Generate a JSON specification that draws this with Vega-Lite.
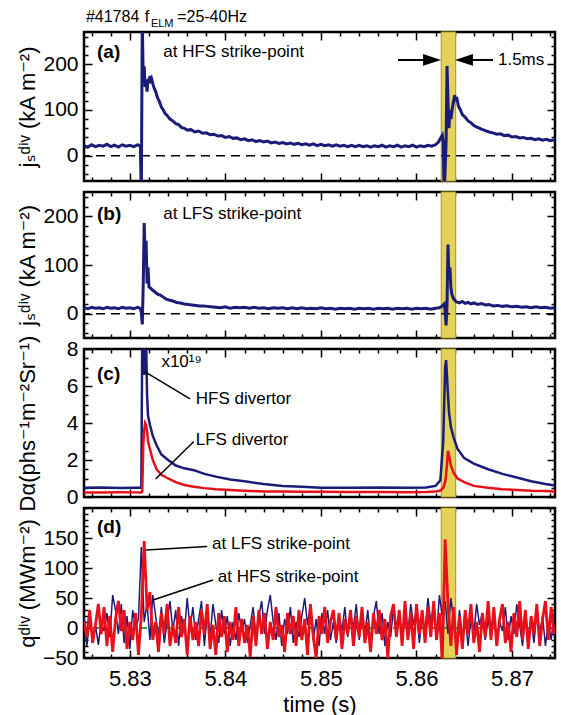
{
"$schema":"https://vega.github.io/schema/vega-lite/v6.json",
"background":"white",
"padding":{"left":14,"top":7,"right":4,"bottom":0},
"bounds":"flush",
"spacing":11,
"config":{"view":{"stroke":"black","strokeWidth":2.5},"font":"Liberation Sans",
"axis":{"labelFont":"Liberation Sans","titleFont":"Liberation Sans, DejaVu Sans","labelColor":"black","titleColor":"black","tickColor":"black","tickWidth":1.5,"domain":false,"grid":false,"labelFontSize":21,"titleFontSize":22,"titleFontWeight":"normal","labelOverlap":false,"labelFlush":false,"labelBound":false,"zindex":1},
"text":{"font":"Liberation Sans","color":"black"}},
"datasets":{
"band":[{"t0":5.8626,"t1":5.8641}],
"a":[{"t":5.8252,"v":22},{"t":5.8256,"v":19},{"t":5.826,"v":24},{"t":5.8264,"v":20},{"t":5.8268,"v":23},{"t":5.8272,"v":21},{"t":5.8276,"v":25},{"t":5.828,"v":20},{"t":5.8284,"v":23},{"t":5.8288,"v":19},{"t":5.8292,"v":24},{"t":5.8296,"v":21},{"t":5.83,"v":23},{"t":5.8304,"v":20},{"t":5.8308,"v":24},{"t":5.8311,"v":22},{"t":5.8312,"v":-90},{"t":5.8313,"v":300},{"t":5.8314,"v":165},{"t":5.8315,"v":195},{"t":5.8316,"v":150},{"t":5.8317,"v":162},{"t":5.8318,"v":140},{"t":5.8319,"v":168},{"t":5.832,"v":160},{"t":5.8321,"v":174},{"t":5.8322,"v":158},{"t":5.8323,"v":166},{"t":5.8325,"v":150},{"t":5.8327,"v":140},{"t":5.8329,"v":126},{"t":5.8331,"v":118},{"t":5.8333,"v":106},{"t":5.8335,"v":100},{"t":5.8337,"v":92},{"t":5.8339,"v":88},{"t":5.8342,"v":80},{"t":5.8345,"v":76},{"t":5.8348,"v":70},{"t":5.8351,"v":68},{"t":5.8354,"v":62},{"t":5.8357,"v":60},{"t":5.836,"v":56},{"t":5.8364,"v":57},{"t":5.8368,"v":52},{"t":5.8372,"v":54},{"t":5.8376,"v":49},{"t":5.838,"v":50},{"t":5.8384,"v":46},{"t":5.8388,"v":47},{"t":5.8392,"v":43},{"t":5.8396,"v":44},{"t":5.84,"v":40},{"t":5.8404,"v":42},{"t":5.8408,"v":38},{"t":5.8412,"v":39},{"t":5.8416,"v":35},{"t":5.842,"v":37},{"t":5.8424,"v":33},{"t":5.8428,"v":35},{"t":5.8432,"v":31},{"t":5.8436,"v":33},{"t":5.844,"v":30},{"t":5.8444,"v":32},{"t":5.8448,"v":28},{"t":5.8452,"v":30},{"t":5.8456,"v":27},{"t":5.846,"v":29},{"t":5.8464,"v":26},{"t":5.8468,"v":28},{"t":5.8472,"v":25},{"t":5.8476,"v":27},{"t":5.848,"v":24},{"t":5.8484,"v":26},{"t":5.8488,"v":23},{"t":5.8492,"v":26},{"t":5.8496,"v":22},{"t":5.85,"v":25},{"t":5.8504,"v":22},{"t":5.8508,"v":24},{"t":5.8512,"v":21},{"t":5.8516,"v":24},{"t":5.852,"v":21},{"t":5.8524,"v":23},{"t":5.8528,"v":20},{"t":5.8532,"v":23},{"t":5.8536,"v":20},{"t":5.854,"v":23},{"t":5.8544,"v":20},{"t":5.8548,"v":22},{"t":5.8552,"v":19},{"t":5.8556,"v":22},{"t":5.856,"v":20},{"t":5.8564,"v":23},{"t":5.8568,"v":19},{"t":5.8572,"v":22},{"t":5.8576,"v":20},{"t":5.858,"v":23},{"t":5.8584,"v":19},{"t":5.8588,"v":22},{"t":5.8592,"v":20},{"t":5.8596,"v":23},{"t":5.86,"v":19},{"t":5.8604,"v":22},{"t":5.8608,"v":20},{"t":5.8612,"v":23},{"t":5.8616,"v":21},{"t":5.862,"v":24},{"t":5.8623,"v":30},{"t":5.8625,"v":38},{"t":5.8627,"v":45},{"t":5.8628,"v":30},{"t":5.8629,"v":-90},{"t":5.8631,"v":30},{"t":5.8632,"v":196},{"t":5.8633,"v":120},{"t":5.8634,"v":60},{"t":5.8635,"v":100},{"t":5.8636,"v":80},{"t":5.8638,"v":110},{"t":5.864,"v":132},{"t":5.8641,"v":120},{"t":5.8642,"v":128},{"t":5.8644,"v":108},{"t":5.8646,"v":100},{"t":5.8648,"v":90},{"t":5.8651,"v":84},{"t":5.8654,"v":76},{"t":5.8657,"v":72},{"t":5.866,"v":66},{"t":5.8664,"v":62},{"t":5.8668,"v":58},{"t":5.8672,"v":55},{"t":5.8676,"v":52},{"t":5.868,"v":50},{"t":5.8684,"v":47},{"t":5.8688,"v":48},{"t":5.8692,"v":44},{"t":5.8696,"v":45},{"t":5.87,"v":41},{"t":5.8704,"v":42},{"t":5.8708,"v":39},{"t":5.8712,"v":40},{"t":5.8716,"v":37},{"t":5.872,"v":38},{"t":5.8724,"v":35},{"t":5.8728,"v":37},{"t":5.8732,"v":34},{"t":5.8736,"v":36},{"t":5.874,"v":33},{"t":5.8745,"v":35}],
"b":[{"t":5.8252,"v":12},{"t":5.8256,"v":10},{"t":5.826,"v":13},{"t":5.8264,"v":11},{"t":5.8268,"v":12},{"t":5.8272,"v":10},{"t":5.8276,"v":13},{"t":5.828,"v":11},{"t":5.8284,"v":12},{"t":5.8288,"v":10},{"t":5.8292,"v":13},{"t":5.8296,"v":11},{"t":5.83,"v":12},{"t":5.8304,"v":10},{"t":5.8308,"v":13},{"t":5.8311,"v":11},{"t":5.8312,"v":2},{"t":5.8313,"v":-22},{"t":5.8314,"v":60},{"t":5.8315,"v":186},{"t":5.8316,"v":120},{"t":5.8317,"v":150},{"t":5.8318,"v":62},{"t":5.8319,"v":95},{"t":5.832,"v":55},{"t":5.8322,"v":52},{"t":5.8324,"v":48},{"t":5.8326,"v":45},{"t":5.8329,"v":40},{"t":5.8332,"v":38},{"t":5.8335,"v":34},{"t":5.8338,"v":30},{"t":5.8341,"v":28},{"t":5.8345,"v":26},{"t":5.8349,"v":23},{"t":5.8353,"v":22},{"t":5.8357,"v":20},{"t":5.8361,"v":19},{"t":5.8365,"v":18},{"t":5.8369,"v":17},{"t":5.8373,"v":16},{"t":5.8377,"v":16},{"t":5.8381,"v":15},{"t":5.8385,"v":14},{"t":5.839,"v":13},{"t":5.8395,"v":12},{"t":5.84,"v":14},{"t":5.8405,"v":11},{"t":5.841,"v":13},{"t":5.8415,"v":12},{"t":5.842,"v":13},{"t":5.8425,"v":11},{"t":5.843,"v":13},{"t":5.8435,"v":11},{"t":5.844,"v":12},{"t":5.8445,"v":10},{"t":5.845,"v":12},{"t":5.8455,"v":11},{"t":5.846,"v":12},{"t":5.8465,"v":10},{"t":5.847,"v":12},{"t":5.8475,"v":10},{"t":5.848,"v":12},{"t":5.8485,"v":10},{"t":5.849,"v":11},{"t":5.8495,"v":10},{"t":5.85,"v":12},{"t":5.8505,"v":10},{"t":5.851,"v":11},{"t":5.8515,"v":9},{"t":5.852,"v":11},{"t":5.8525,"v":10},{"t":5.853,"v":11},{"t":5.8535,"v":9},{"t":5.854,"v":11},{"t":5.8545,"v":10},{"t":5.855,"v":11},{"t":5.8555,"v":9},{"t":5.856,"v":11},{"t":5.8565,"v":10},{"t":5.857,"v":11},{"t":5.8575,"v":9},{"t":5.858,"v":11},{"t":5.8585,"v":10},{"t":5.859,"v":11},{"t":5.8595,"v":9},{"t":5.86,"v":11},{"t":5.8605,"v":10},{"t":5.861,"v":11},{"t":5.8615,"v":9},{"t":5.862,"v":11},{"t":5.8624,"v":12},{"t":5.8627,"v":16},{"t":5.8629,"v":20},{"t":5.863,"v":5},{"t":5.8631,"v":-24},{"t":5.8632,"v":20},{"t":5.8633,"v":142},{"t":5.8634,"v":70},{"t":5.8635,"v":95},{"t":5.8636,"v":55},{"t":5.8637,"v":40},{"t":5.8639,"v":30},{"t":5.8642,"v":24},{"t":5.8645,"v":22},{"t":5.8648,"v":25},{"t":5.8651,"v":21},{"t":5.8654,"v":23},{"t":5.8657,"v":20},{"t":5.866,"v":22},{"t":5.8664,"v":19},{"t":5.8668,"v":21},{"t":5.8672,"v":18},{"t":5.8676,"v":19},{"t":5.868,"v":16},{"t":5.8685,"v":17},{"t":5.869,"v":15},{"t":5.8695,"v":16},{"t":5.87,"v":14},{"t":5.8705,"v":15},{"t":5.871,"v":13},{"t":5.8715,"v":14},{"t":5.872,"v":12},{"t":5.8725,"v":14},{"t":5.873,"v":12},{"t":5.8735,"v":13},{"t":5.874,"v":11},{"t":5.8745,"v":12}],
"c":[{"t":5.8252,"h":0.5,"l":0.25},{"t":5.827,"h":0.52,"l":0.24},{"t":5.829,"h":0.48,"l":0.26},{"t":5.8305,"h":0.5,"l":0.25},{"t":5.8312,"h":0.5,"l":0.25},{"t":5.8313,"h":9,"l":0.3},{"t":5.8314,"h":9,"l":2.8},{"t":5.8315,"h":6.6,"l":3.6},{"t":5.8316,"h":7.6,"l":4.0},{"t":5.8317,"h":8.5,"l":3.9},{"t":5.8318,"h":5.5,"l":3.6},{"t":5.8319,"h":4.4,"l":3.0},{"t":5.8321,"h":3.9,"l":2.6},{"t":5.8324,"h":3.3,"l":2.0},{"t":5.8328,"h":2.8,"l":1.5},{"t":5.8333,"h":2.3,"l":1.2},{"t":5.834,"h":2.0,"l":1.0},{"t":5.8348,"h":1.7,"l":0.8},{"t":5.8357,"h":1.55,"l":0.65},{"t":5.8367,"h":1.45,"l":0.55},{"t":5.8378,"h":1.25,"l":0.48},{"t":5.839,"h":1.1,"l":0.42},{"t":5.8405,"h":0.95,"l":0.38},{"t":5.842,"h":0.85,"l":0.34},{"t":5.844,"h":0.7,"l":0.3},{"t":5.846,"h":0.6,"l":0.3},{"t":5.848,"h":0.55,"l":0.28},{"t":5.85,"h":0.5,"l":0.28},{"t":5.853,"h":0.5,"l":0.27},{"t":5.856,"h":0.52,"l":0.27},{"t":5.859,"h":0.5,"l":0.26},{"t":5.861,"h":0.52,"l":0.27},{"t":5.862,"h":0.6,"l":0.3},{"t":5.8625,"h":0.9,"l":0.35},{"t":5.8628,"h":3.0,"l":0.5},{"t":5.863,"h":7.0,"l":0.8},{"t":5.8631,"h":7.4,"l":1.2},{"t":5.8632,"h":6.5,"l":1.8},{"t":5.8633,"h":5.5,"l":2.5},{"t":5.8634,"h":4.6,"l":2.3},{"t":5.8636,"h":3.8,"l":1.7},{"t":5.8639,"h":3.2,"l":1.3},{"t":5.8643,"h":2.6,"l":1.0},{"t":5.865,"h":2.1,"l":0.8},{"t":5.866,"h":1.8,"l":0.6},{"t":5.8675,"h":1.5,"l":0.5},{"t":5.869,"h":1.25,"l":0.42},{"t":5.8705,"h":1.05,"l":0.38},{"t":5.872,"h":0.85,"l":0.34},{"t":5.8735,"h":0.7,"l":0.32},{"t":5.8745,"h":0.62,"l":0.3}],
"d":[{"t":5.8252,"h":20,"l":10},{"t":5.8255,"h":-30,"l":-15},{"t":5.8258,"h":15,"l":30},{"t":5.8261,"h":-20,"l":-25},{"t":5.8264,"h":5,"l":5},{"t":5.8267,"h":-28,"l":40},{"t":5.827,"h":10,"l":-10},{"t":5.8273,"h":-5,"l":35},{"t":5.8276,"h":25,"l":-30},{"t":5.8279,"h":-15,"l":20},{"t":5.8282,"h":55,"l":-40},{"t":5.8285,"h":30,"l":15},{"t":5.8288,"h":-10,"l":45},{"t":5.8291,"h":40,"l":-5},{"t":5.8294,"h":-25,"l":30},{"t":5.8297,"h":20,"l":-35},{"t":5.83,"h":-35,"l":10},{"t":5.8303,"h":30,"l":-20},{"t":5.8306,"h":0,"l":25},{"t":5.8309,"h":15,"l":-45},{"t":5.8312,"h":135,"l":20},{"t":5.8315,"h":10,"l":145},{"t":5.8318,"h":40,"l":30},{"t":5.8321,"h":-20,"l":60},{"t":5.8324,"h":55,"l":-20},{"t":5.8327,"h":20,"l":10},{"t":5.833,"h":-15,"l":-40},{"t":5.8333,"h":35,"l":25},{"t":5.8336,"h":-25,"l":-10},{"t":5.8339,"h":10,"l":40},{"t":5.8342,"h":45,"l":-30},{"t":5.8345,"h":-5,"l":5},{"t":5.8348,"h":30,"l":-25},{"t":5.8351,"h":-30,"l":35},{"t":5.8354,"h":20,"l":-15},{"t":5.8357,"h":-10,"l":15},{"t":5.836,"h":50,"l":-45},{"t":5.8363,"h":0,"l":20},{"t":5.8366,"h":35,"l":-20},{"t":5.8369,"h":-20,"l":10},{"t":5.8372,"h":15,"l":-30},{"t":5.8375,"h":45,"l":30},{"t":5.8378,"h":-30,"l":-10},{"t":5.8381,"h":25,"l":40},{"t":5.8384,"h":-15,"l":-35},{"t":5.8387,"h":40,"l":5},{"t":5.839,"h":5,"l":-45},{"t":5.8393,"h":-25,"l":25},{"t":5.8396,"h":30,"l":-15},{"t":5.8399,"h":-10,"l":20},{"t":5.8402,"h":20,"l":-40},{"t":5.8405,"h":-30,"l":10},{"t":5.8408,"h":10,"l":-20},{"t":5.8411,"h":-20,"l":35},{"t":5.8414,"h":25,"l":-30},{"t":5.8417,"h":-5,"l":15},{"t":5.842,"h":15,"l":-25},{"t":5.8423,"h":-25,"l":5},{"t":5.8426,"h":5,"l":-48},{"t":5.8429,"h":35,"l":20},{"t":5.8432,"h":-15,"l":-30},{"t":5.8435,"h":20,"l":30},{"t":5.8438,"h":45,"l":-10},{"t":5.8441,"h":-10,"l":25},{"t":5.8444,"h":30,"l":-35},{"t":5.8447,"h":55,"l":10},{"t":5.845,"h":10,"l":-20},{"t":5.8453,"h":-20,"l":35},{"t":5.8456,"h":25,"l":-15},{"t":5.8459,"h":-30,"l":5},{"t":5.8462,"h":15,"l":-40},{"t":5.8465,"h":-10,"l":25},{"t":5.8468,"h":35,"l":-10},{"t":5.8471,"h":-25,"l":20},{"t":5.8474,"h":10,"l":-30},{"t":5.8477,"h":-15,"l":30},{"t":5.848,"h":20,"l":-20},{"t":5.8483,"h":50,"l":15},{"t":5.8486,"h":5,"l":-45},{"t":5.8489,"h":40,"l":40},{"t":5.8492,"h":-20,"l":-15},{"t":5.8495,"h":15,"l":-50},{"t":5.8498,"h":-30,"l":20},{"t":5.8501,"h":25,"l":-10},{"t":5.8504,"h":-10,"l":35},{"t":5.8507,"h":30,"l":-25},{"t":5.851,"h":-20,"l":10},{"t":5.8513,"h":10,"l":30},{"t":5.8516,"h":-25,"l":-20},{"t":5.8519,"h":20,"l":25},{"t":5.8522,"h":-5,"l":-35},{"t":5.8525,"h":35,"l":15},{"t":5.8528,"h":-15,"l":-10},{"t":5.8531,"h":25,"l":30},{"t":5.8534,"h":0,"l":-30},{"t":5.8537,"h":40,"l":20},{"t":5.854,"h":-20,"l":-15},{"t":5.8543,"h":15,"l":35},{"t":5.8546,"h":-10,"l":-25},{"t":5.8549,"h":30,"l":10},{"t":5.8552,"h":-25,"l":-40},{"t":5.8555,"h":20,"l":25},{"t":5.8558,"h":45,"l":-10},{"t":5.8561,"h":-10,"l":30},{"t":5.8564,"h":25,"l":-20},{"t":5.8567,"h":-30,"l":15},{"t":5.857,"h":10,"l":-50},{"t":5.8573,"h":-15,"l":20},{"t":5.8576,"h":35,"l":40},{"t":5.8579,"h":0,"l":-15},{"t":5.8582,"h":25,"l":30},{"t":5.8585,"h":-20,"l":-30},{"t":5.8588,"h":15,"l":45},{"t":5.8591,"h":-10,"l":-20},{"t":5.8594,"h":40,"l":25},{"t":5.8597,"h":5,"l":-35},{"t":5.86,"h":30,"l":40},{"t":5.8603,"h":-25,"l":-10},{"t":5.8606,"h":20,"l":30},{"t":5.8609,"h":-5,"l":-25},{"t":5.8612,"h":50,"l":35},{"t":5.8615,"h":10,"l":-15},{"t":5.8618,"h":35,"l":45},{"t":5.8621,"h":-15,"l":-20},{"t":5.8624,"h":55,"l":25},{"t":5.8627,"h":20,"l":-55},{"t":5.863,"h":45,"l":148},{"t":5.8633,"h":-10,"l":40},{"t":5.8636,"h":50,"l":-30},{"t":5.8639,"h":10,"l":35},{"t":5.8642,"h":-25,"l":-45},{"t":5.8645,"h":30,"l":20},{"t":5.8648,"h":-15,"l":-35},{"t":5.8651,"h":20,"l":30},{"t":5.8654,"h":-30,"l":-10},{"t":5.8657,"h":15,"l":40},{"t":5.866,"h":-10,"l":-25},{"t":5.8663,"h":40,"l":10},{"t":5.8666,"h":5,"l":-40},{"t":5.8669,"h":25,"l":25},{"t":5.8672,"h":-20,"l":-15},{"t":5.8675,"h":15,"l":45},{"t":5.8678,"h":-15,"l":-20},{"t":5.8681,"h":30,"l":35},{"t":5.8684,"h":-25,"l":-30},{"t":5.8687,"h":10,"l":15},{"t":5.869,"h":-5,"l":40},{"t":5.8693,"h":35,"l":-25},{"t":5.8696,"h":-20,"l":10},{"t":5.8699,"h":20,"l":-40},{"t":5.8702,"h":-10,"l":25},{"t":5.8705,"h":40,"l":-15},{"t":5.8708,"h":5,"l":45},{"t":5.8711,"h":-30,"l":-20},{"t":5.8714,"h":25,"l":30},{"t":5.8717,"h":-15,"l":-35},{"t":5.872,"h":15,"l":20},{"t":5.8723,"h":-25,"l":-10},{"t":5.8726,"h":30,"l":40},{"t":5.8729,"h":-10,"l":-30},{"t":5.8732,"h":20,"l":15},{"t":5.8735,"h":-30,"l":45},{"t":5.8738,"h":10,"l":-20},{"t":5.8741,"h":-20,"l":35},{"t":5.8744,"h":25,"l":-10}],
"hdr":[{"t":5.8254,"v":303,"label":"#41784"},{"t":5.83157,"v":303,"label":"f"},{"t":5.83495,"v":303,"label":"=25-40Hz"}],
"hdrsub":[{"t":5.8322,"v":288,"label":"ELM"}],
"anA":[{"t":5.8335,"v":226,"label":"at HFS strike-point"},{"t":5.86853,"v":209,"label":"1.5ms"}],
"arrows":[{"t0":5.85807,"t1":5.86163,"v":209},{"t0":5.86497,"t1":5.86801,"v":209}],
"heads":[{"t":5.86163,"v":209,"dir":"r"},{"t":5.86497,"v":209,"dir":"l"}],
"anB":[{"t":5.8335,"v":205,"label":"at LFS strike-point"}],
"anC":[{"t":5.8333,"v":7.3,"label":"x10¹⁹"},{"t":5.8369,"v":5.3,"label":"HFS divertor"},{"t":5.8369,"v":3.1,"label":"LFS divertor"}],
"leadC":[{"t0":5.83159,"v0":6.76,"t1":5.8363,"v1":5.3},{"t0":5.8327,"v0":0.97,"t1":5.8367,"v1":3.0}],
"anD":[{"t":5.8386,"v":140,"label":"at LFS strike-point"},{"t":5.8392,"v":85,"label":"at HFS strike-point"}],
"leadD":[{"t0":5.8317,"v0":130,"t1":5.8381,"v1":136},{"t0":5.8325,"v0":47,"t1":5.8387,"v1":80}]
},
"vconcat":[
{"width":471,"height":149,"resolve":{"axis":{"x":"independent","y":"independent"}},
"layer":[
{"data":{"name":"band"},"mark":{"type":"rect","fill":"#e3d35a","stroke":"#b3a21a","strokeWidth":1.2},
"encoding":{"x":{"field":"t0","type":"quantitative","scale":{"domain":[5.8252,5.8745],"nice":false,"zero":false},"axis":{"orient":"top","values":[5.83,5.84,5.85,5.86,5.87],"labels":false,"title":null,"tickSize":-8}},"x2":{"field":"t1"}}},
{"data":{"values":[{"v":0}]},"mark":{"type":"rule","strokeDash":[9,6],"strokeWidth":1.5,"color":"black"},
"encoding":{"y":{"field":"v","type":"quantitative","scale":{"domain":[-55,270],"nice":false,"zero":false},"axis":{"orient":"right","values":[0,100,200],"labels":false,"title":null,"tickSize":-8}}}},
{"data":{"name":"a"},"mark":{"type":"line","color":"#1b1b78","strokeWidth":3,"clip":true},
"encoding":{"x":{"field":"t","type":"quantitative","scale":{"domain":[5.8252,5.8745],"nice":false,"zero":false},"axis":{"orient":"bottom","values":[5.83,5.84,5.85,5.86,5.87],"labels":false,"title":null,"tickSize":-8}},
"y":{"field":"v","type":"quantitative","scale":{"domain":[-55,270],"nice":false,"zero":false},"axis":{"orient":"left","values":[0,100,200],"format":"d","labelPadding":14,"title":"jₛᵈⁱᵛ (kA m⁻²)","titleX":-50,"titleBaseline":"alphabetic","tickSize":-8}}}},
{"data":{"name":"hdr"},"mark":{"type":"text","align":"left","baseline":"middle","fontSize":16},
"encoding":{"x":{"field":"t","type":"quantitative","axis":null},"y":{"field":"v","type":"quantitative","axis":null},"text":{"field":"label"}}},
{"data":{"name":"hdrsub"},"mark":{"type":"text","align":"left","baseline":"middle","fontSize":11},
"encoding":{"x":{"field":"t","type":"quantitative","axis":null},"y":{"field":"v","type":"quantitative","axis":null},"text":{"field":"label"}}},
{"data":{"values":[{"t":5.82656,"v":226,"label":"(a)"}]},"mark":{"type":"text","align":"left","baseline":"middle","fontSize":19,"fontWeight":"bold"},
"encoding":{"x":{"field":"t","type":"quantitative","axis":{"orient":"top","values":[5.826,5.828,5.832,5.834,5.836,5.838,5.842,5.844,5.846,5.848,5.852,5.854,5.856,5.858,5.862,5.864,5.866,5.868,5.872,5.874],"labels":false,"title":null,"tickSize":-4}},"y":{"field":"v","type":"quantitative","axis":{"orient":"left","values":[-40,-20,20,40,60,80,120,140,160,180,220,240,260],"labels":false,"title":null,"tickSize":-4}},"text":{"field":"label"}}},
{"data":{"name":"anA"},"mark":{"type":"text","align":"left","baseline":"middle","fontSize":17},
"encoding":{"x":{"field":"t","type":"quantitative","axis":{"orient":"bottom","values":[5.826,5.828,5.832,5.834,5.836,5.838,5.842,5.844,5.846,5.848,5.852,5.854,5.856,5.858,5.862,5.864,5.866,5.868,5.872,5.874],"labels":false,"title":null,"tickSize":-4}},"y":{"field":"v","type":"quantitative","axis":{"orient":"right","values":[-40,-20,20,40,60,80,120,140,160,180,220,240,260],"labels":false,"title":null,"tickSize":-4}},"text":{"field":"label"}}},
{"data":{"name":"arrows"},"mark":{"type":"rule","color":"black","strokeWidth":2},
"encoding":{"x":{"field":"t0","type":"quantitative","axis":null},"x2":{"field":"t1"},"y":{"field":"v","type":"quantitative","axis":null}}},
{"data":{"name":"heads"},"mark":{"type":"point","filled":true,"color":"black","opacity":1,"size":324},
"encoding":{"x":{"field":"t","type":"quantitative","axis":null},"y":{"field":"v","type":"quantitative","axis":null},"shape":{"field":"dir","type":"nominal","scale":{"domain":["r","l"],"range":["M-1,-0.65L1,0L-1,0.65Z","M1,-0.65L-1,0L1,0.65Z"]},"legend":null}}}
]},
{"width":471,"height":146,"resolve":{"axis":{"x":"independent","y":"independent"}},
"layer":[
{"data":{"name":"band"},"mark":{"type":"rect","fill":"#e3d35a","stroke":"#b3a21a","strokeWidth":1.2},
"encoding":{"x":{"field":"t0","type":"quantitative","scale":{"domain":[5.8252,5.8745],"nice":false,"zero":false},"axis":{"orient":"top","values":[5.83,5.84,5.85,5.86,5.87],"labels":false,"title":null,"tickSize":-8}},"x2":{"field":"t1"}}},
{"data":{"values":[{"v":0}]},"mark":{"type":"rule","strokeDash":[9,6],"strokeWidth":1.5,"color":"black"},
"encoding":{"y":{"field":"v","type":"quantitative","scale":{"domain":[-50,250],"nice":false,"zero":false},"axis":{"orient":"right","values":[0,100,200],"labels":false,"title":null,"tickSize":-8}}}},
{"data":{"name":"b"},"mark":{"type":"line","color":"#1b1b78","strokeWidth":3,"clip":true},
"encoding":{"x":{"field":"t","type":"quantitative","scale":{"domain":[5.8252,5.8745],"nice":false,"zero":false},"axis":{"orient":"bottom","values":[5.83,5.84,5.85,5.86,5.87],"labels":false,"title":null,"tickSize":-8}},
"y":{"field":"v","type":"quantitative","scale":{"domain":[-50,250],"nice":false,"zero":false},"axis":{"orient":"left","values":[0,100,200],"format":"d","labelPadding":14,"title":"jₛᵈⁱᵛ (kA m⁻²)","titleX":-50,"titleBaseline":"alphabetic","tickSize":-8}}}},
{"data":{"values":[{"t":5.82656,"v":205,"label":"(b)"}]},"mark":{"type":"text","align":"left","baseline":"middle","fontSize":19,"fontWeight":"bold"},
"encoding":{"x":{"field":"t","type":"quantitative","axis":{"orient":"top","values":[5.826,5.828,5.832,5.834,5.836,5.838,5.842,5.844,5.846,5.848,5.852,5.854,5.856,5.858,5.862,5.864,5.866,5.868,5.872,5.874],"labels":false,"title":null,"tickSize":-4}},"y":{"field":"v","type":"quantitative","axis":{"orient":"left","values":[-40,-20,20,40,60,80,120,140,160,180,220,240],"labels":false,"title":null,"tickSize":-4}},"text":{"field":"label"}}},
{"data":{"name":"anB"},"mark":{"type":"text","align":"left","baseline":"middle","fontSize":17},
"encoding":{"x":{"field":"t","type":"quantitative","axis":{"orient":"bottom","values":[5.826,5.828,5.832,5.834,5.836,5.838,5.842,5.844,5.846,5.848,5.852,5.854,5.856,5.858,5.862,5.864,5.866,5.868,5.872,5.874],"labels":false,"title":null,"tickSize":-4}},"y":{"field":"v","type":"quantitative","axis":{"orient":"right","values":[-40,-20,20,40,60,80,120,140,160,180,220,240],"labels":false,"title":null,"tickSize":-4}},"text":{"field":"label"}}}
]},
{"width":471,"height":148,"resolve":{"axis":{"x":"independent","y":"independent"}},
"layer":[
{"data":{"name":"band"},"mark":{"type":"rect","fill":"#e3d35a","stroke":"#b3a21a","strokeWidth":1.2},
"encoding":{"x":{"field":"t0","type":"quantitative","scale":{"domain":[5.8252,5.8745],"nice":false,"zero":false},"axis":{"orient":"top","values":[5.83,5.84,5.85,5.86,5.87],"labels":false,"title":null,"tickSize":-8}},"x2":{"field":"t1"}}},
{"data":{"name":"c"},"mark":{"type":"line","color":"#1b1b78","strokeWidth":2.5,"clip":true},
"encoding":{"x":{"field":"t","type":"quantitative","scale":{"domain":[5.8252,5.8745],"nice":false,"zero":false},"axis":{"orient":"bottom","values":[5.83,5.84,5.85,5.86,5.87],"labels":false,"title":null,"tickSize":-8}},
"y":{"field":"h","type":"quantitative","scale":{"domain":[0,8],"nice":false,"zero":false},"axis":{"orient":"left","values":[0,2,4,6,8],"format":"d","labelPadding":14,"title":"Dα(phs⁻¹m⁻²Sr⁻¹)","titleX":-50,"titleBaseline":"alphabetic","tickSize":-8}}}},
{"data":{"name":"c"},"mark":{"type":"line","color":"#e8101a","strokeWidth":2.5,"clip":true},
"encoding":{"x":{"field":"t","type":"quantitative","axis":{"orient":"top","values":[5.826,5.828,5.832,5.834,5.836,5.838,5.842,5.844,5.846,5.848,5.852,5.854,5.856,5.858,5.862,5.864,5.866,5.868,5.872,5.874],"labels":false,"title":null,"tickSize":-4}},"y":{"field":"l","type":"quantitative","axis":{"orient":"right","values":[0,2,4,6,8],"labels":false,"title":null,"tickSize":-8}}}},
{"data":{"name":"leadC"},"mark":{"type":"rule","color":"black","strokeWidth":1.5},
"encoding":{"x":{"field":"t0","type":"quantitative","axis":{"orient":"bottom","values":[5.826,5.828,5.832,5.834,5.836,5.838,5.842,5.844,5.846,5.848,5.852,5.854,5.856,5.858,5.862,5.864,5.866,5.868,5.872,5.874],"labels":false,"title":null,"tickSize":-4}},"x2":{"field":"t1"},"y":{"field":"v0","type":"quantitative","axis":{"orient":"right","values":[0.5,1,1.5,2.5,3,3.5,4.5,5,5.5,6.5,7,7.5],"labels":false,"title":null,"tickSize":-4}},"y2":{"field":"v1"}}},
{"data":{"values":[{"t":5.82656,"v":6.65,"label":"(c)"}]},"mark":{"type":"text","align":"left","baseline":"middle","fontSize":19,"fontWeight":"bold"},
"encoding":{"x":{"field":"t","type":"quantitative","axis":null},"y":{"field":"v","type":"quantitative","axis":{"orient":"left","values":[0.5,1,1.5,2.5,3,3.5,4.5,5,5.5,6.5,7,7.5],"labels":false,"title":null,"tickSize":-4}},"text":{"field":"label"}}},
{"data":{"name":"anC"},"mark":{"type":"text","align":"left","baseline":"middle","fontSize":17},
"encoding":{"x":{"field":"t","type":"quantitative","axis":null},"y":{"field":"v","type":"quantitative","axis":null},"text":{"field":"label"}}}
]},
{"width":471,"height":150,"resolve":{"axis":{"x":"independent","y":"independent"}},
"layer":[
{"data":{"name":"band"},"mark":{"type":"rect","fill":"#e3d35a","stroke":"#b3a21a","strokeWidth":1.2},
"encoding":{"x":{"field":"t0","type":"quantitative","scale":{"domain":[5.8252,5.8745],"nice":false,"zero":false},"axis":{"orient":"top","values":[5.83,5.84,5.85,5.86,5.87],"labels":false,"title":null,"tickSize":-8}},"x2":{"field":"t1"}}},
{"data":{"values":[{"v":0}]},"mark":{"type":"rule","strokeDash":[6,6],"strokeWidth":2,"color":"#2e9e3e"},
"encoding":{"y":{"field":"v","type":"quantitative","scale":{"domain":[-50,200],"nice":false,"zero":false},"axis":{"orient":"right","values":[-50,0,50,100,150,200],"labels":false,"title":null,"tickSize":-8}}}},
{"data":{"name":"d"},"mark":{"type":"line","color":"#1b1b78","strokeWidth":1.5,"clip":true},
"encoding":{"x":{"field":"t","type":"quantitative","scale":{"domain":[5.8252,5.8745],"nice":false,"zero":false},"axis":{"orient":"bottom","values":[5.83,5.84,5.85,5.86,5.87],"format":".2f","labelPadding":18,"labelFontSize":22,"title":"time (s)","titleFontSize":22,"titlePadding":5,"tickSize":-8}},
"y":{"field":"h","type":"quantitative","scale":{"domain":[-50,200],"nice":false,"zero":false},"axis":{"orient":"left","values":[-50,0,50,100,150],"format":"d","labelPadding":14,"title":"qᵈⁱᵛ (MWm⁻²)","titleX":-50,"titleBaseline":"alphabetic","tickSize":-8}}}},
{"data":{"name":"d"},"mark":{"type":"line","color":"#e8101a","strokeWidth":2.8,"clip":true},
"encoding":{"x":{"field":"t","type":"quantitative","axis":{"orient":"top","values":[5.826,5.828,5.832,5.834,5.836,5.838,5.842,5.844,5.846,5.848,5.852,5.854,5.856,5.858,5.862,5.864,5.866,5.868,5.872,5.874],"labels":false,"title":null,"tickSize":-4}},"y":{"field":"l","type":"quantitative","axis":{"orient":"left","values":[-40,-30,-20,-10,10,20,30,40,60,70,80,90,110,120,130,140,160,170,180,190,200],"labels":false,"title":null,"tickSize":-4}}}},
{"data":{"name":"leadD"},"mark":{"type":"rule","color":"black","strokeWidth":1.5},
"encoding":{"x":{"field":"t0","type":"quantitative","axis":{"orient":"bottom","values":[5.826,5.828,5.832,5.834,5.836,5.838,5.842,5.844,5.846,5.848,5.852,5.854,5.856,5.858,5.862,5.864,5.866,5.868,5.872,5.874],"labels":false,"title":null,"tickSize":-4}},"x2":{"field":"t1"},"y":{"field":"v0","type":"quantitative","axis":{"orient":"right","values":[-40,-30,-20,-10,10,20,30,40,60,70,80,90,110,120,130,140,160,170,180,190],"labels":false,"title":null,"tickSize":-4}},"y2":{"field":"v1"}}},
{"data":{"values":[{"t":5.82656,"v":168,"label":"(d)"}]},"mark":{"type":"text","align":"left","baseline":"middle","fontSize":19,"fontWeight":"bold"},
"encoding":{"x":{"field":"t","type":"quantitative","axis":null},"y":{"field":"v","type":"quantitative","axis":null},"text":{"field":"label"}}},
{"data":{"name":"anD"},"mark":{"type":"text","align":"left","baseline":"middle","fontSize":17},
"encoding":{"x":{"field":"t","type":"quantitative","axis":null},"y":{"field":"v","type":"quantitative","axis":null},"text":{"field":"label"}}}
]}
]
}
